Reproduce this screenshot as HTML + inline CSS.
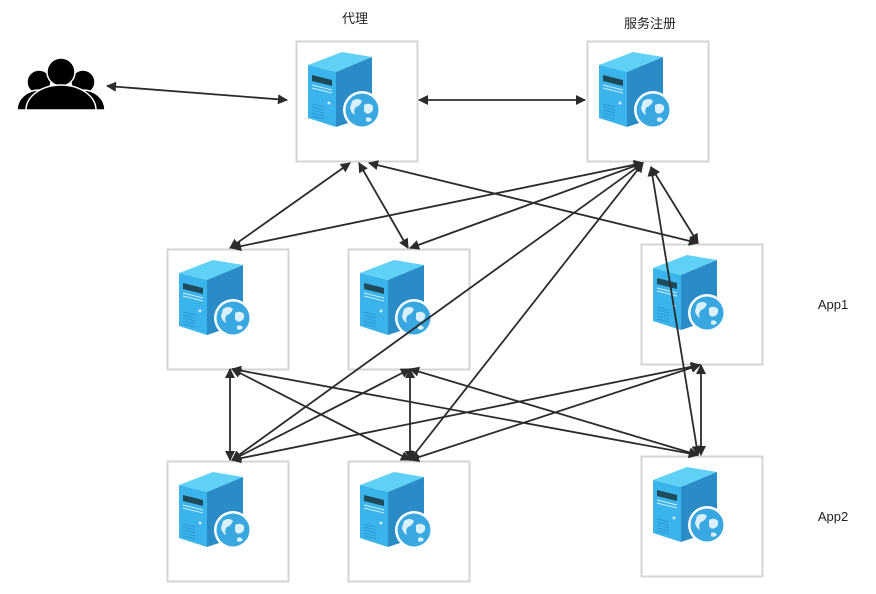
<!DOCTYPE html>
<html><head><meta charset="utf-8"><style>
body{margin:0;background:#fff;width:876px;height:589px;overflow:hidden}
</style></head><body>
<svg width="876" height="589" viewBox="0 0 876 589" xmlns="http://www.w3.org/2000/svg">
<defs>
<marker id="a" viewBox="0 0 10 10" refX="9" refY="5" markerWidth="12" markerHeight="10" markerUnits="userSpaceOnUse" orient="auto-start-reverse"><path d="M0,0 L10,5 L0,10 z" fill="#2b2b2b"/></marker>
<g id="srv">
<rect x="0.5" y="0.5" width="121" height="120" fill="#fff" stroke="#d4d4d4" stroke-width="2"/>
<polygon points="12,24 46,11 76,16 40,31" fill="#5fd1f7"/>
<polygon points="40,31 76,16 76,74 40,86" fill="#2a8cc7"/>
<polygon points="12,24 40,31 40,86 12,77" fill="#3ab4ea"/>
<polygon points="16,34 36,39 36,45 16,40" fill="#1e4a5a"/>
<line x1="16" y1="44" x2="36" y2="49" stroke="#cdeefb"/>
<line x1="16" y1="47" x2="36" y2="52" stroke="#cdeefb"/>
<circle cx="33" cy="62" r="1.5" fill="#cdeefb"/>
<g stroke="#2a9ad6" stroke-width="1"><line x1="16" y1="63" x2="28" y2="66"/><line x1="16" y1="66" x2="28" y2="69"/><line x1="16" y1="69" x2="28" y2="72"/><line x1="16" y1="72" x2="28" y2="75"/><line x1="16" y1="75" x2="28" y2="78"/></g>
<circle cx="66" cy="69" r="19" fill="#fff"/>
<circle cx="66" cy="69" r="16.5" fill="#3aa8e0"/>
<path d="M56,60 q6,-4 10,0 q-2,5 -6,6 q-3,3 -1,8 q-4,-2 -5,-7z M68,64 q5,-3 9,1 q1,5 -3,7 q-4,2 -6,-2z M70,77 q4,-2 6,2 q-3,3 -6,1z" fill="#d8f1fc"/>
</g>
</defs>
<g font-family="Liberation Sans, Noto Sans CJK SC, sans-serif" font-size="13" fill="#222" text-anchor="middle">
<text x="355" y="23">代理</text>
<text x="650" y="28">服务注册</text>
<text x="833" y="309">App1</text>
<text x="833" y="521">App2</text>
</g>
<use href="#srv" x="296" y="41"/>
<use href="#srv" x="587" y="41"/>
<use href="#srv" x="167" y="249"/>
<use href="#srv" x="348" y="249"/>
<use href="#srv" x="641" y="244"/>
<use href="#srv" x="167" y="461"/>
<use href="#srv" x="348" y="461"/>
<use href="#srv" x="641" y="456"/>
<g fill="#000" stroke="#fff" stroke-width="1.5">
<circle cx="39" cy="82" r="12"/><circle cx="83" cy="82" r="12"/>
<path d="M17,110 a22,20 0 0 1 44,0z"/><path d="M61,110 a22,20 0 0 1 44,0z"/>
<circle cx="61" cy="72" r="14"/>
<path d="M26,110 a35,25 0 0 1 70,0z"/>
</g>
<g stroke="#2b2b2b" stroke-width="1.8" fill="none" marker-start="url(#a)" marker-end="url(#a)">
<line x1="107" y1="86" x2="287" y2="100"/>
<line x1="419" y1="100" x2="585" y2="100"/>
<line x1="350" y1="163" x2="230" y2="248"/>
<line x1="359" y1="163" x2="408" y2="248"/>
<line x1="369" y1="163" x2="698" y2="243"/>
<line x1="643" y1="163" x2="232" y2="248"/>
<line x1="643" y1="163" x2="410" y2="248"/>
<line x1="643" y1="163" x2="232" y2="460"/>
<line x1="643" y1="163" x2="410" y2="460"/>
<line x1="651" y1="167" x2="698" y2="243"/>
<line x1="651" y1="167" x2="698" y2="455"/>
<line x1="230" y1="369" x2="230" y2="460"/>
<line x1="410" y1="369" x2="410" y2="460"/>
<line x1="701" y1="365" x2="701" y2="455"/>
<line x1="232" y1="369" x2="410" y2="460"/>
<line x1="232" y1="369" x2="698" y2="455"/>
<line x1="410" y1="369" x2="232" y2="460"/>
<line x1="410" y1="369" x2="698" y2="455"/>
<line x1="700" y1="365" x2="232" y2="460"/>
<line x1="700" y1="365" x2="410" y2="460"/>
</g>
</svg>
</body></html>
